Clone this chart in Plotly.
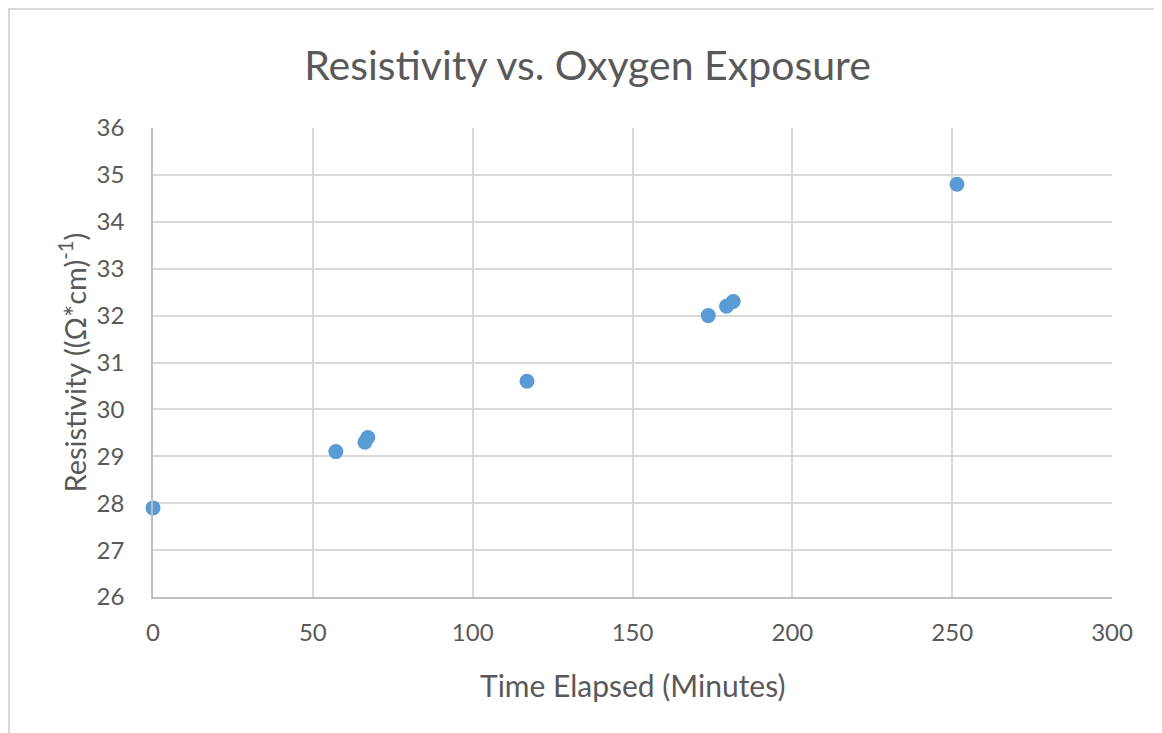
import plotly.graph_objects as go

time_min = [0, 57.2, 66.3, 67.2, 117, 173.7, 179.4, 181.5, 251.5]
resistivity = [27.9, 29.1, 29.3, 29.4, 30.6, 32.0, 32.2, 32.3, 34.8]

x_ticks = [0, 50, 100, 150, 200, 250, 300]
y_ticks = [26, 27, 28, 29, 30, 31, 32, 33, 34, 35, 36]

FONT = "Lato"
TXT = "#595959"

fig = go.Figure()
fig.add_trace(go.Scatter(
    x=time_min, y=resistivity, mode="markers",
    marker=dict(color="#5B9BD5", size=15, line=dict(width=0)),
    showlegend=False, cliponaxis=False,
))

W, H = 1162, 733
L, T = 145, 120
pw, ph = 959, 469
R, B = W - L - pw, H - T - ph

fig.update_layout(
    width=W, height=H,
    margin=dict(l=L, r=R, t=T, b=B),
    paper_bgcolor="white", plot_bgcolor="white",
    font=dict(family=FONT, color=TXT, size=24),
    title=dict(text="Resistivity vs. Oxygen Exposure", x=579.5 / W, xref="container",
               xanchor="center", y=1 - 58 / H, yref="container", yanchor="middle",
               font=dict(family=FONT, size=41, color=TXT)),
    xaxis=dict(range=[0, 300], tickvals=x_ticks, showgrid=True, gridcolor="#D9D9D9",
               gridwidth=1.5, zeroline=False, showline=True, linecolor="#BFBFBF",
               linewidth=1.5, ticks="", tickfont=dict(size=24, color=TXT),
               ticklabelstandoff=13),
    yaxis=dict(range=[26, 36], tickvals=y_ticks, showgrid=True, gridcolor="#D9D9D9",
               gridwidth=1.5, zeroline=False, showline=True, linecolor="#BFBFBF",
               linewidth=1.5, ticks="", tickfont=dict(size=24, color=TXT),
               ticklabelstandoff=22),
    annotations=[
        dict(text="Time Elapsed (Minutes)", xref="paper", yref="paper", x=0.5, y=0,
             xanchor="center", yanchor="middle", yshift=-88, showarrow=False,
             font=dict(size=30, color=TXT, family=FONT)),
        dict(text="Resistivity ((Ω*cm)<sup>-1</sup>)", xref="paper", yref="paper",
             x=0, y=0.5, xanchor="center", yanchor="middle", xshift=-81,
             textangle=-90, showarrow=False,
             font=dict(size=29, color=TXT, family=FONT)),
    ],
    shapes=[dict(type="rect", xref="paper", yref="paper",
                 x0=(1 - L) / pw, x1=(W + 30 - L) / pw,
                 y0=-(B + 30) / ph, y1=1 + (T - 1) / ph,
                 line=dict(color="#D9D9D9", width=2), fillcolor="rgba(0,0,0,0)",
                 layer="below")],
)

fig.write_html("out.html")
